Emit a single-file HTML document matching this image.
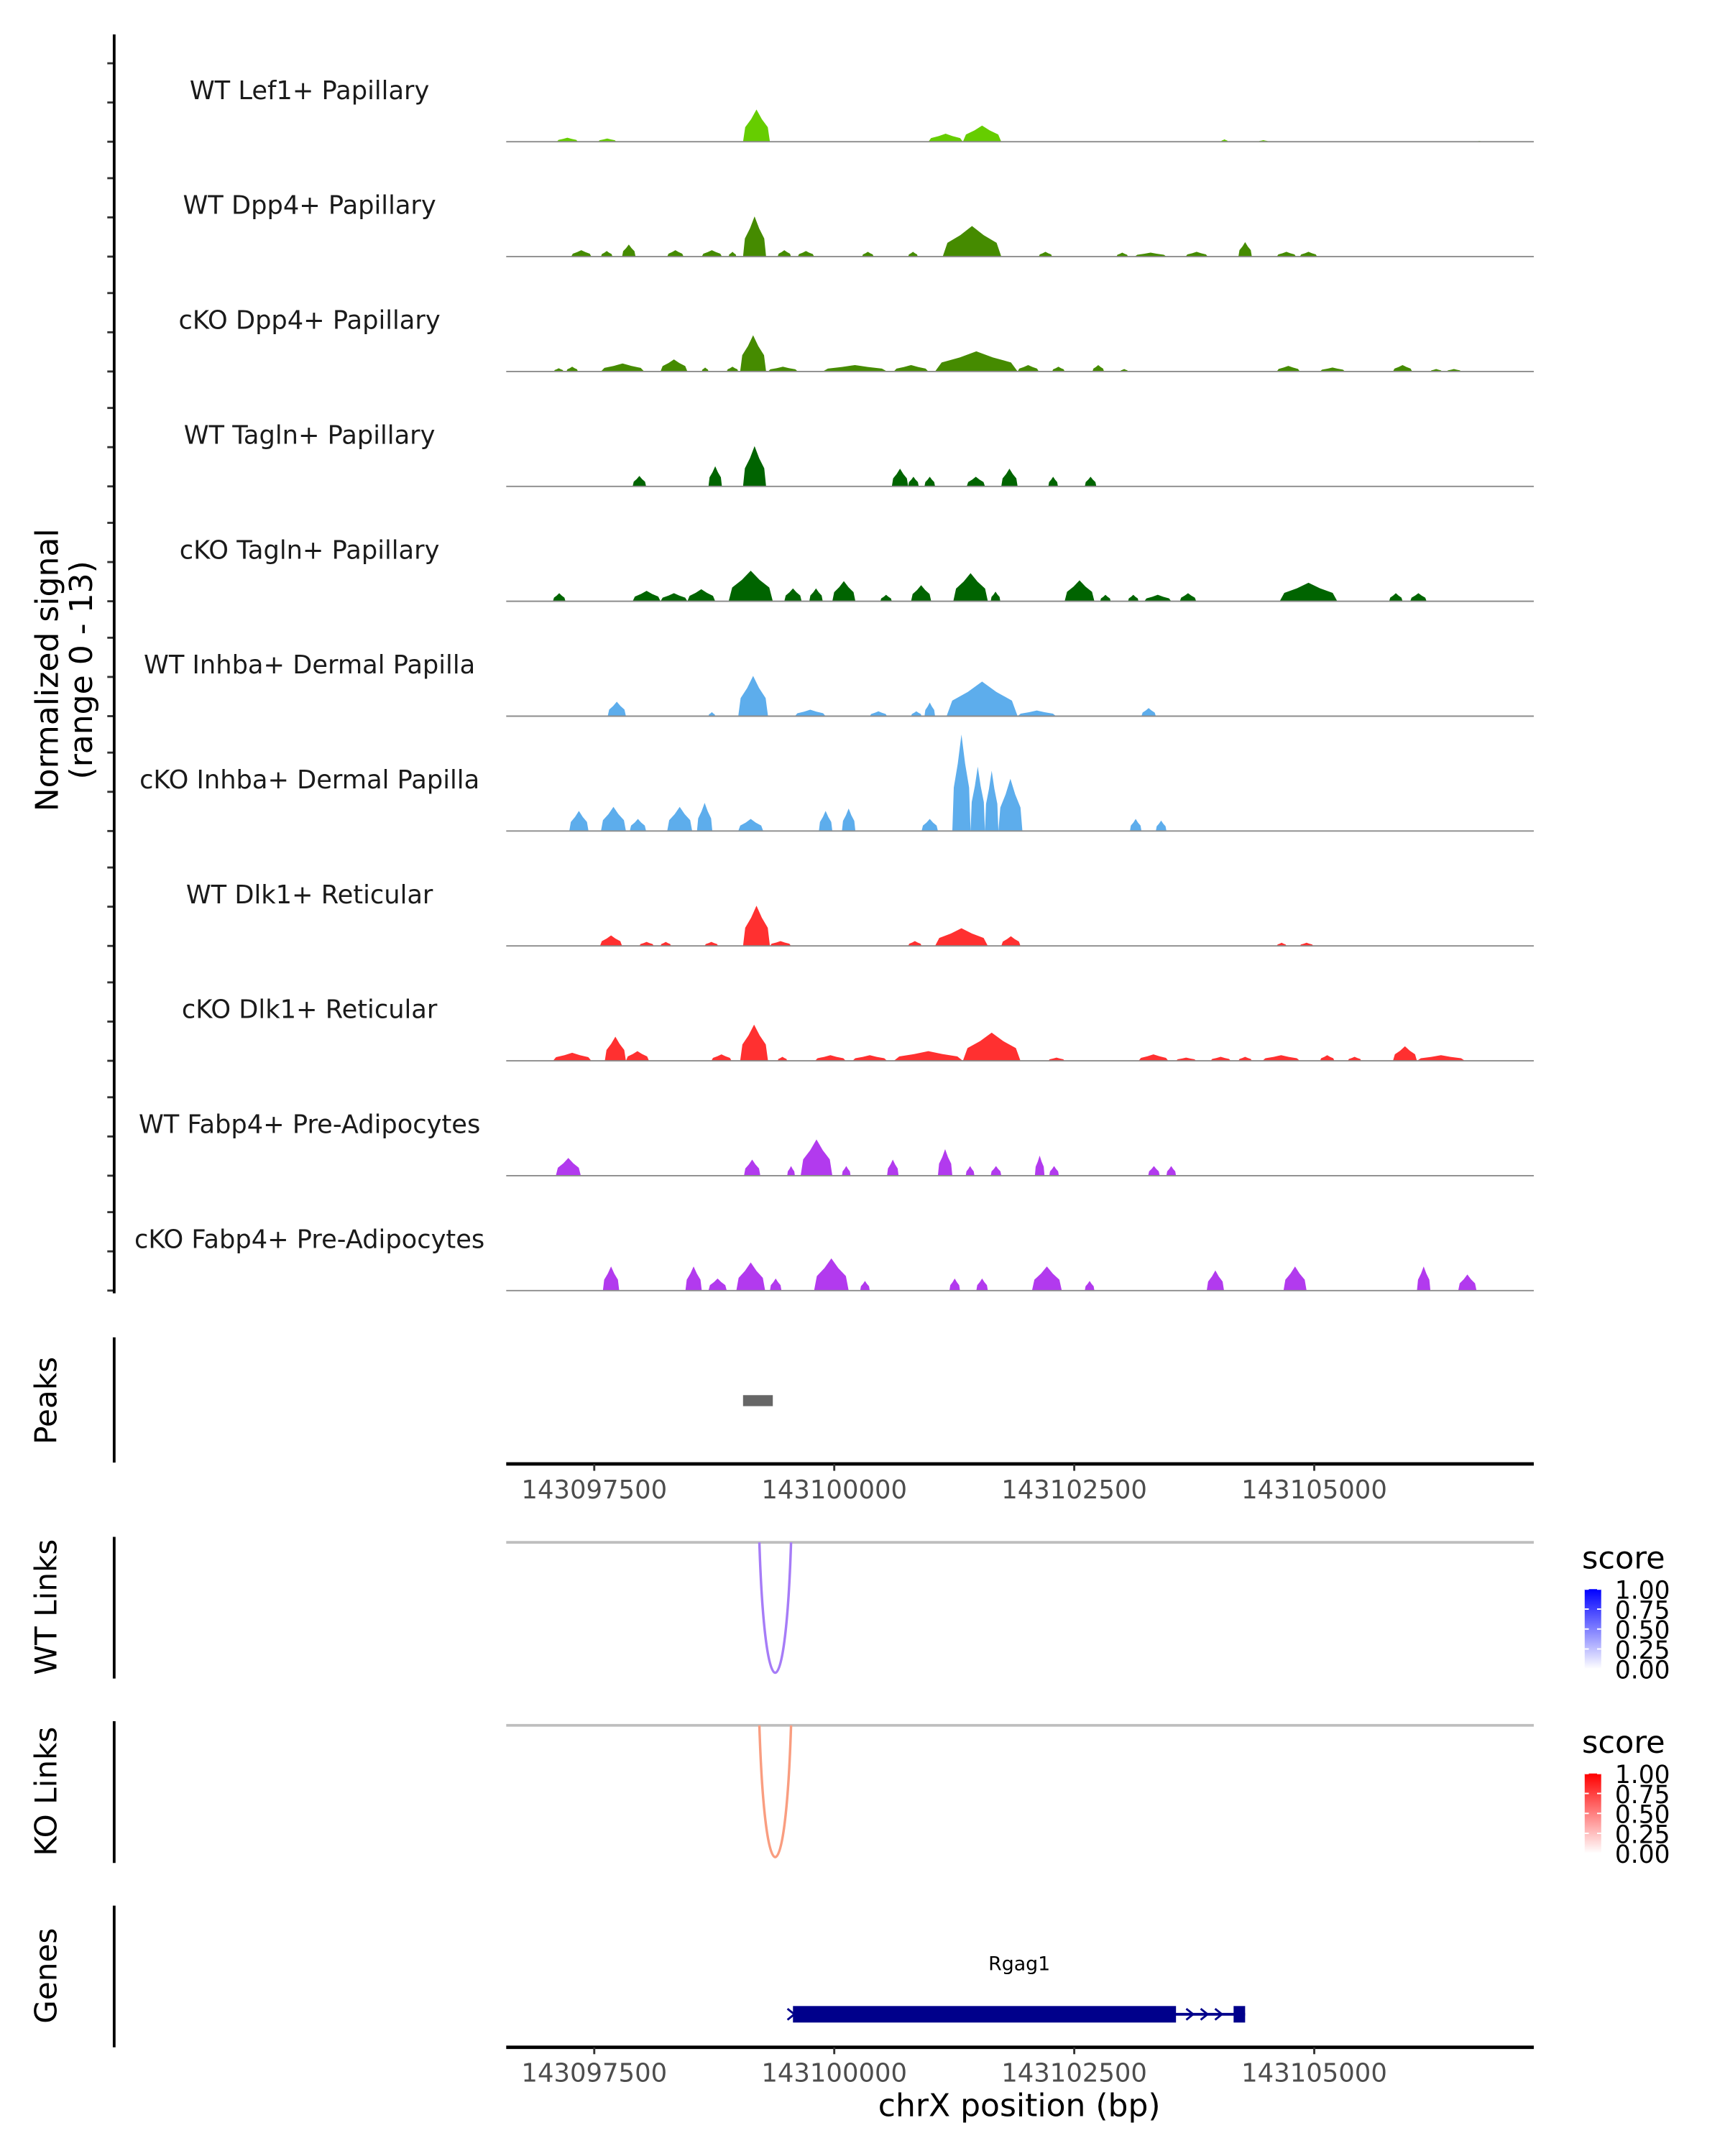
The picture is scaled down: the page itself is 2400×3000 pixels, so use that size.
<!DOCTYPE html>
<html><head><meta charset="utf-8"><style>
html,body{margin:0;padding:0;background:#fff;}
svg{display:block;}
text{font-family:"DejaVu Sans","Liberation Sans",sans-serif;}
</style></head><body>
<svg id="chart" width="2400" height="3000" viewBox="0 0 1254 1567" preserveAspectRatio="none" xmlns="http://www.w3.org/2000/svg">
<defs>
<linearGradient id="gWT" x1="0" y1="1" x2="0" y2="0"><stop offset="0" stop-color="#ffffff"/><stop offset="1" stop-color="#0000ff"/></linearGradient>
<linearGradient id="gKO" x1="0" y1="1" x2="0" y2="0"><stop offset="0" stop-color="#ffffff"/><stop offset="1" stop-color="#ff0000"/></linearGradient>
</defs>
<g id="tracks"></g>
<text transform="translate(42,487) rotate(-90)" text-anchor="middle" font-size="23" fill="#000">Normalized signal</text>
<text transform="translate(67,487) rotate(-90)" text-anchor="middle" font-size="23" fill="#000">(range 0 - 13)</text>
<line x1="83" y1="25" x2="83" y2="940" stroke="#000" stroke-width="2"/>

<line x1="83" y1="972" x2="83" y2="1063" stroke="#000" stroke-width="2"/>
<text transform="translate(41,1018) rotate(-90)" text-anchor="middle" font-size="22">Peaks</text>
<rect id="peakrect" y="1014" height="8" fill="#666"/>
<g id="xaxis1"></g>

<line x1="83" y1="1117" x2="83" y2="1220" stroke="#000" stroke-width="2"/>
<text transform="translate(41,1168) rotate(-90)" text-anchor="middle" font-size="22">WT Links</text>
<line x1="368" y1="1121" x2="1115" y2="1121" stroke="#bebebe" stroke-width="2"/>
<path id="wtarc" fill="none" stroke="#a67cf7" stroke-width="1.8"/>
<text x="1150" y="1140" font-size="22.5">score</text>
<rect x="1152" y="1155" width="12" height="58" fill="url(#gWT)"/>
<g id="wtleg"></g>

<line x1="83" y1="1251" x2="83" y2="1354" stroke="#000" stroke-width="2"/>
<text transform="translate(41,1302) rotate(-90)" text-anchor="middle" font-size="22">KO Links</text>
<line x1="368" y1="1254" x2="1115" y2="1254" stroke="#bebebe" stroke-width="2"/>
<path id="koarc" fill="none" stroke="#f99d80" stroke-width="1.8"/>
<text x="1150" y="1274" font-size="22.5">score</text>
<rect x="1152" y="1289" width="12" height="58" fill="url(#gKO)"/>
<g id="koleg"></g>

<line x1="83" y1="1385" x2="83" y2="1488" stroke="#000" stroke-width="2"/>
<text transform="translate(41,1436) rotate(-90)" text-anchor="middle" font-size="22">Genes</text>
<g id="gene"></g>
<g id="xaxis2"></g>
<text x="741" y="1538" text-anchor="middle" font-size="23">chrX position (bp)</text>
</svg>
<script>
// positions in kb past 143,000,000 ; heights in normalized signal units
const trackNames = ["WT Lef1+ Papillary","WT Dpp4+ Papillary","cKO Dpp4+ Papillary","WT Tagln+ Papillary","cKO Tagln+ Papillary","WT Inhba+ Dermal Papilla","cKO Inhba+ Dermal Papilla","WT Dlk1+ Reticular","cKO Dlk1+ Reticular","WT Fabp4+ Pre-Adipocytes","cKO Fabp4+ Pre-Adipocytes"];
const trackColors = ["#66cd00","#458b00","#458b00","#006400","#006400","#5dadec","#5dadec","#ff3030","#ff3030","#b23aee","#b23aee"];
const lef1WT = [[97.11,97.33,0.5],[97.54,97.73,0.4],[99.05,99.33,4],[100.98,101.34,1],[101.34,101.74,2],[104.03,104.10,0.3],[104.42,104.52,0.2],[106.69,106.75,0.1]];
const dpp4WT = [[97.26,97.47,0.8],[97.57,97.69,0.7],[97.79,97.93,1.5],[98.26,98.43,0.8],[98.62,98.83,0.8],[98.90,98.98,0.6],[99.05,99.29,5],[99.41,99.55,0.8],[99.62,99.79,0.7],[100.29,100.41,0.6],[100.77,100.87,0.6],[101.13,101.74,3.8],[102.13,102.27,0.6],[102.94,103.06,0.5],[103.13,103.46,0.5],[103.66,103.89,0.6],[104.21,104.35,1.8],[104.61,104.81,0.6],[104.85,105.03,0.6]];
const dpp4KO = [[97.08,97.18,0.4],[97.21,97.33,0.6],[97.57,98.02,1],[98.19,98.47,1.5],[98.62,98.69,0.5],[98.88,99.00,0.6],[99.02,99.29,4.5],[99.31,99.62,0.6],[99.88,100.55,0.8],[100.62,100.98,0.8],[101.05,101.91,2.5],[101.91,102.13,0.8],[102.27,102.40,0.6],[102.69,102.81,0.8],[102.98,103.06,0.3],[104.61,104.85,0.7],[105.06,105.32,0.5],[105.82,106.02,0.8],[106.21,106.33,0.3],[106.38,106.53,0.3]];
const taglnWT = [[97.90,98.04,1.3],[98.69,98.83,2.5],[99.05,99.29,5],[100.60,100.77,2.2],[100.77,100.88,1.2],[100.94,101.05,1.2],[101.38,101.57,1.2],[101.74,101.91,2.2],[102.23,102.33,1.2],[102.61,102.73,1.2]];
const taglnKO = [[97.07,97.20,1],[97.90,98.19,1.3],[98.19,98.47,1],[98.47,98.76,1.5],[98.90,99.36,3.8],[99.48,99.66,1.6],[99.74,99.88,1.6],[99.98,100.22,2.5],[100.48,100.60,0.8],[100.80,101.01,2],[101.24,101.60,3.5],[101.63,101.73,1.2],[102.40,102.71,2.6],[102.77,102.88,0.8],[103.06,103.17,0.8],[103.23,103.51,0.8],[103.60,103.77,1],[104.64,105.24,2.3],[105.78,105.92,1],[106.00,106.17,1]];
const inhbaWT = [[97.64,97.83,1.8],[98.69,98.76,0.5],[99.00,99.31,5],[99.59,99.91,0.8],[100.37,100.55,0.6],[100.80,100.91,0.6],[100.94,101.05,1.7],[101.17,101.91,4.3],[101.91,102.31,0.7],[103.20,103.35,1]];
const inhbaKO = [[97.24,97.44,2.5],[97.57,97.83,3],[97.87,98.04,1.5],[98.26,98.52,3],[98.57,98.73,3.5],[99.00,99.26,1.5],[99.84,99.98,2.5],[100.08,100.22,2.8],[100.91,101.08,1.5],[101.23,101.42,12],[101.42,101.57,8],[101.57,101.71,7.5],[101.71,101.96,6.5],[103.08,103.20,1.5],[103.35,103.46,1.3]];
const dlk1WT = [[97.56,97.79,1.3],[97.97,98.12,0.5],[98.19,98.30,0.5],[98.65,98.79,0.5],[99.05,99.33,5],[99.33,99.55,0.6],[100.77,100.91,0.6],[101.05,101.60,2.2],[101.74,101.94,1.2],[104.61,104.71,0.4],[104.85,104.99,0.4]];
const dlk1KO = [[97.07,97.47,1],[97.61,97.83,3],[97.83,98.07,1.2],[98.72,98.93,0.8],[99.02,99.31,4.5],[99.41,99.51,0.5],[99.80,100.12,0.7],[100.19,100.55,0.7],[100.62,101.34,1.2],[101.34,101.94,3.5],[102.23,102.40,0.4],[103.17,103.48,0.8],[103.56,103.77,0.4],[103.92,104.13,0.5],[104.21,104.35,0.5],[104.46,104.85,0.7],[105.06,105.21,0.7],[105.35,105.49,0.5],[105.82,106.07,1.8],[106.07,106.57,0.7]];
const fabp4WT = [[97.10,97.36,2.2],[99.06,99.23,2],[99.51,99.59,1.2],[99.65,99.98,4.5],[100.08,100.17,1.2],[100.55,100.67,2],[101.08,101.23,3.3],[101.37,101.46,1.2],[101.63,101.74,1.2],[102.09,102.19,2.5],[102.24,102.34,1.2],[103.27,103.39,1.2],[103.46,103.56,1.2]];
const fabp4KO = [[97.59,97.76,3],[98.45,98.62,3],[98.69,98.88,1.5],[98.98,99.28,3.5],[99.33,99.45,1.5],[99.79,100.15,4],[100.27,100.37,1.2],[101.20,101.31,1.5],[101.48,101.60,1.5],[102.06,102.37,3],[102.61,102.71,1.2],[103.88,104.06,2.5],[104.68,104.92,3],[106.07,106.21,3],[106.50,106.69,2]];
const trackData = [lef1WT,dpp4WT,dpp4KO,taglnWT,taglnKO,inhbaWT,inhbaKO,dlk1WT,dlk1KO,fabp4WT,fabp4KO];
const xTicks = [97.5,100,102.5,105];
const xTickLabels = ["143097500","143100000","143102500","143105000"];
const peakRegion = [99.05,99.36];
const wtLink = [99.22,99.55,0.5];
const koLink = [99.22,99.55,0.5];
const legendValues = [0,0.25,0.5,0.75,1];
const legendLabels = ["0.00","0.25","0.50","0.75","1.00"];
const geneStart = 99.57, geneCdsEnd = 103.56, geneEnd = 104.28, geneUtrStart = 104.16;

const NS="http://www.w3.org/2000/svg";
const X0=368, X1=1115, D0=96.583, D1=107.287;
function x(kb){return X0+(kb-D0)/(D1-D0)*(X1-X0);}
const base0=103, step=83.5, unit=76/13;
function y(i,v){return base0+i*step - v*unit;}
function mk(tag,attrs,parent){const e=document.createElementNS(NS,tag);for(const k in attrs)e.setAttribute(k,attrs[k]);parent.appendChild(e);return e;}
const tg=document.getElementById('tracks');

trackNames.forEach((name,i)=>{
  const b=base0+i*step;
  for(let k=0;k<3;k++){
    const t=mk('line',{x1:78,x2:83,y1:b-k*28.5,y2:b-k*28.5,stroke:'#333','stroke-width':1.5},tg);
    
    
  }
  const lab=mk('text',{x:225,y:b-31,'text-anchor':'middle','font-size':18.4,fill:'#1a1a1a'},tg);
  lab.textContent=name;
  
  
  trackData[i].forEach(p=>{
    const s=x(p[0]), e=x(p[1]), m=(s+e)/2, w=e-s;
    const pts=[[s,b],[s+w*0.08,y(i,p[2]*0.45)],[s+w*0.3,y(i,p[2]*0.7)],[m,y(i,p[2])],[e-w*0.3,y(i,p[2]*0.7)],[e-w*0.08,y(i,p[2]*0.45)],[e,b]];
    const poly=mk('polygon',{points:pts.map(q=>q[0].toFixed(2)+','+q[1].toFixed(2)).join(' '),fill:trackColors[i]},tg);
    
    
  });
  const bl=mk('line',{x1:X0,x2:X1,y1:b,y2:b,stroke:'#8c8c8c','stroke-width':1},tg);
  
  
});

const pr=document.getElementById('peakrect');
pr.setAttribute('x',x(peakRegion[0]));pr.setAttribute('width',x(peakRegion[1])-x(peakRegion[0]));

function xaxis(g,yy){
  const G=document.getElementById(g);
  mk('line',{x1:X0,x2:X1,y1:yy,y2:yy,stroke:'#000','stroke-width':2.5},G);
  xTicks.forEach((t,j)=>{
    const tk=mk('line',{x1:x(t),x2:x(t),y1:yy,y2:yy+5,stroke:'#333','stroke-width':1.5},G);
    
    
    const tl=mk('text',{x:x(t),y:yy+25,'text-anchor':'middle','font-size':18.5,fill:'#4d4d4d'},G);
    tl.textContent=xTickLabels[j];
    
    
  });
}
xaxis('xaxis1',1064);
xaxis('xaxis2',1488);

function arc(id,l,top,bottom){
  const a=x(l[0]),c=x(l[1]),m=(a+c)/2,depth=(bottom-top)*l[2]*2;
  document.getElementById(id).setAttribute('d',`M${a},${top} C${a+(m-a)*0.35},${top+depth*1.33} ${c-(c-m)*0.35},${top+depth*1.33} ${c},${top}`);
}
arc('wtarc',wtLink,1121,1216);
arc('koarc',koLink,1254,1350);

function legend(id,top){
  const G=document.getElementById(id);
  legendValues.forEach((v,j)=>{
    const yy=top+58-v*58;
    mk('line',{x1:1152,x2:1155,y1:yy,y2:yy,stroke:'#fff','stroke-width':1},G);
    mk('line',{x1:1161,x2:1164,y1:yy,y2:yy,stroke:'#fff','stroke-width':1},G);
    const t=mk('text',{x:1174,y:yy+7,'font-size':18,fill:'#000'},G);
    t.textContent=legendLabels[j];
    
    
  });
}
legend('wtleg',1155);
legend('koleg',1289);

const gg=document.getElementById('gene');
mk('line',{x1:x(geneStart),x2:x(geneEnd),y1:1464,y2:1464,stroke:'#00008b','stroke-width':2},gg);
mk('rect',{x:x(geneStart),y:1458,width:x(geneCdsEnd)-x(geneStart),height:12,fill:'#00008b'},gg);
mk('rect',{x:x(geneUtrStart),y:1458,width:x(geneEnd)-x(geneUtrStart),height:12,fill:'#00008b'},gg);
[0.25,0.5,0.75].forEach(f=>{
  const ax=x(geneCdsEnd)+(x(geneUtrStart)-x(geneCdsEnd))*f;
  mk('path',{d:`M${ax-3},${1460} L${ax+2},${1464} L${ax-3},${1468}`,fill:'none',stroke:'#00008b','stroke-width':1.5},gg);
});
mk('path',{d:`M${x(geneStart)-4},1460 L${x(geneStart)+1},1464 L${x(geneStart)-4},1468`,fill:'none',stroke:'#00008b','stroke-width':1.5},gg);
const gl=mk('text',{x:741,y:1432,'text-anchor':'middle','font-size':14,fill:'#000'},gg);
gl.textContent='Rgag1';


</script>
</body></html>
